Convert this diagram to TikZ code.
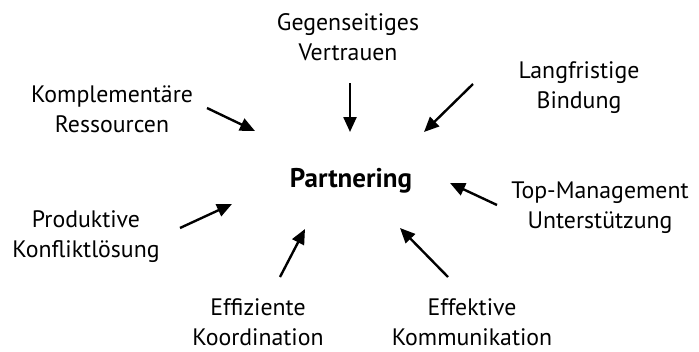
\documentclass[tikz,border=0pt]{standalone}
\usepackage{fontspec}
\setmainfont{PT Sans}
\usetikzlibrary{arrows.meta}

\begin{document}
\begin{tikzpicture}[x=1pt, y=-1pt,
    factor/.style={align=center, inner sep=0pt, anchor=base, font=\fontsize{23.8}{30}\selectfont},
    hub/.style={inner sep=0pt, anchor=base, font=\fontsize{27}{32}\selectfont\bfseries},
    pfeil/.style={line width=2.4pt, -{Triangle[length=15pt,width=13pt]}}]

    % Fix the canvas
    \useasboundingbox (0,0) rectangle (699,351);

    % Centre
    \node[hub] (partnering) at (351,187) {Partnering};

    % Factors round the centre (placed at the baseline of the last line)
    \node[factor] (vertrauen)     at (348,60)  {Gegenseitiges\\Vertrauen};
    \node[factor] (bindung)       at (579,108) {Langfristige\\Bindung};
    \node[factor] (ressourcen)    at (112,132) {Komplementäre\\Ressourcen};
    \node[factor] (management)    at (600,228) {Top-Management\\Unterstützung};
    \node[factor] (konflikt)      at (86,257)  {Produktive\\Konfliktlösung};
    \node[factor] (koordination)  at (258,345) {Effiziente\\Koordination};
    \node[factor] (kommunikation) at (472,345) {Effektive\\Kommunikation};

    % Arrow ends
    \coordinate (vertrauenA)     at (350,83);
    \coordinate (vertrauenB)     at (350,132);
    \coordinate (bindungA)       at (473,84);
    \coordinate (bindungB)       at (424,132);
    \coordinate (ressourcenA)    at (207,108);
    \coordinate (ressourcenB)    at (255,131);
    \coordinate (managementA)    at (497,205);
    \coordinate (managementB)    at (450,183);
    \coordinate (konfliktA)      at (180,228);
    \coordinate (konfliktB)      at (232,204);
    \coordinate (koordinationA)  at (280,277);
    \coordinate (koordinationB)  at (305,229);
    \coordinate (kommunikationA) at (448,277);
    \coordinate (kommunikationB) at (400,228);

    % Draw arrows towards the centre
    \foreach \f in {vertrauen,bindung,ressourcen,management,konflikt,koordination,kommunikation}
        \draw[pfeil] (\f A) -- (\f B);
\end{tikzpicture}
\end{document}
